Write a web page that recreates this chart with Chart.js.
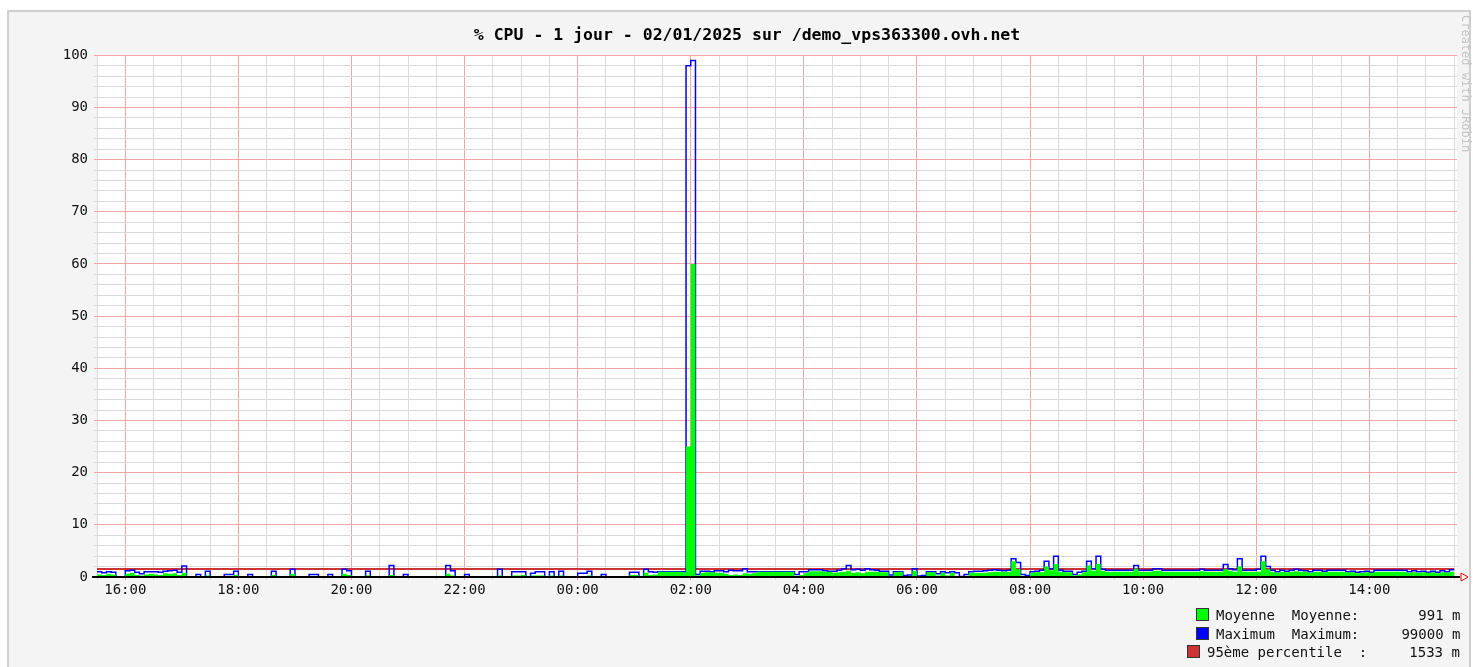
<!DOCTYPE html>
<html>
<head>
<meta charset="utf-8">
<script src="https://cdn.jsdelivr.net/npm/chart.js@4.4.1/dist/chart.umd.min.js"></script>
<style>
  body { margin: 0; background: #fff; width: 1473px; height: 667px; overflow: hidden; position: relative; font-family: 'DejaVu Sans Mono', monospace; }
  #panel { position: absolute; left: 7px; top: 10px; width: 1464px; height: 700px; background: #f4f4f4; border: 2px solid #cfcfcf; box-sizing: border-box; }
  #cpu { position: absolute; left: 0; top: 0; }
  .leg { position: absolute; font-size: 14px; white-space: pre; color: #111; line-height: 16px; }
  .sq { position: absolute; width: 13px; height: 13px; border: 1px solid #333; box-sizing: border-box; }
  #credit { position: absolute; left: 1459px; top: 15px; writing-mode: vertical-rl; font-size: 12px; color: #c4c4c4; }
</style>
</head>
<body>
<div id="panel"></div>
<canvas id="cpu" width="1473" height="667"></canvas>
<div id="legend"></div>
<div id="credit">Created with JRobin</div>
<script>
// samples every 5 minutes, starting 15:30 (minutes since midnight of day 1)
var startMinute = 930;
var stepMinutes = 5;
var endMinute = 2373;

// Moyenne (% CPU), one row per hour
var moyenne = [
  0.5, 0.4, 0.6, 0.5, 0, 0, 0.6, 0.8, 0.4, 0.3, 0.5, 0.6,
  0.5, 0.4, 0.7, 0.6, 0.7, 0.4, 0.8, 0, 0, 0.2, 0, 0.3,
  0, 0, 0, 0.2, 0.2, 0.4, 0, 0, 0.2, 0, 0, 0,
  0, 0.4, 0, 0, 0, 0.6, 0, 0, 0, 0.2, 0.2, 0,
  0, 0.2, 0, 0, 0.6, 0.4, 0, 0, 0, 0.3, 0, 0,
  0, 0, 0.4, 0, 0, 0.2, 0, 0, 0, 0, 0, 0,
  0, 0, 0.6, 0.3, 0, 0, 0.2, 0, 0, 0, 0, 0,
  0, 0.3, 0, 0, 0.3, 0.3, 0.4, 0, 0.3, 0.3, 0.3, 0,
  0.3, 0, 0.3, 0, 0, 0, 0.2, 0.2, 0.3, 0, 0, 0.2,
  0, 0, 0, 0, 0, 0.4, 0.4, 0, 0.8, 0.4, 0.5, 1.0,
  1.0, 1.0, 1.0, 1.0, 0.9, 25, 60, 0.3, 0.8, 0.9, 0.9, 0.8,
  0.8, 0.6, 0.4, 0.5, 0.4, 0.7, 0.6, 0.7, 1.0, 1.0, 1.0, 1.0,
  1.0, 1.0, 1.0, 1.0, 0.2, 0.4, 0.7, 1.1, 1.1, 1.1, 1.0, 1.0,
  0.8, 0.9, 1.0, 1.2, 0.8, 0.9, 0.7, 1.0, 1.0, 1.0, 0.9, 0.9,
  0.2, 0.9, 1.0, 0.2, 0.2, 1.2, 0.1, 0.1, 0.9, 0.9, 0.3, 0.8,
  0.3, 0.8, 0.2, 0, 0.2, 0.8, 0.8, 0.8, 0.8, 0.9, 1.0, 1.0,
  1.0, 1.0, 3.0, 1.5, 0.1, 0.1, 0.8, 0.9, 0.9, 2.0, 1.3, 2.5,
  1.0, 0.9, 0.9, 0.3, 0.5, 0.9, 2.2, 1.2, 2.5, 1.2, 1.0, 1.0,
  1.0, 1.0, 1.0, 1.0, 1.6, 1.0, 1.0, 1.0, 1.2, 1.2, 1.0, 1.0,
  1.0, 1.0, 1.0, 1.0, 1.0, 1.0, 1.1, 1.0, 1.0, 1.0, 1.0, 1.5,
  1.2, 1.0, 2.0, 1.0, 1.0, 1.0, 1.0, 3.0, 1.5, 1.0, 0.8, 1.0,
  0.9, 1.0, 1.1, 1.0, 1.0, 0.8, 1.0, 1.0, 0.9, 1.0, 1.0, 1.0,
  1.0, 0.9, 0.9, 0.7, 0.8, 0.9, 0.8, 1.0, 1.0, 1.0, 1.0, 1.0,
  1.0, 1.0, 0.8, 0.9, 0.8, 0.9, 0.8, 0.9, 0.7, 0.9, 0.8, 1.0
];

// Maximum (% CPU)
var maximum = [
  1.0, 0.8, 1.0, 0.9, 0, 0, 1.2, 1.3, 0.9, 0.6, 1.0, 1.0,
  1.0, 0.9, 1.1, 1.2, 1.3, 0.9, 2.1, 0, 0, 0.5, 0, 1.1,
  0, 0, 0, 0.5, 0.5, 1.1, 0, 0, 0.5, 0, 0, 0,
  0, 1.1, 0, 0, 0, 1.5, 0, 0, 0, 0.5, 0.5, 0,
  0, 0.5, 0, 0, 1.5, 1.2, 0, 0, 0, 1.1, 0, 0,
  0, 0, 2.2, 0, 0, 0.5, 0, 0, 0, 0, 0, 0,
  0, 0, 2.2, 1.2, 0, 0, 0.5, 0, 0, 0, 0, 0,
  0, 1.5, 0, 0, 1.0, 1.0, 1.0, 0, 0.7, 1.0, 1.0, 0,
  1.0, 0, 1.1, 0, 0, 0, 0.7, 0.7, 1.1, 0, 0, 0.5,
  0, 0, 0, 0, 0, 0.9, 0.9, 0, 1.5, 1.0, 0.9, 1.0,
  1.0, 1.0, 1.0, 1.0, 1.0, 98, 99, 0.5, 1.1, 1.1, 1.0, 1.2,
  1.2, 1.0, 1.3, 1.2, 1.2, 1.6, 1.0, 1.0, 1.0, 1.0, 1.0, 1.0,
  1.0, 1.0, 1.0, 1.0, 0.5, 1.0, 1.0, 1.4, 1.4, 1.4, 1.2, 1.1,
  1.1, 1.3, 1.6, 2.2, 1.4, 1.5, 1.3, 1.6, 1.4, 1.3, 1.1, 1.1,
  0.4, 1.0, 1.0, 0.3, 0.4, 1.6, 0.2, 0.3, 1.0, 1.0, 0.6, 1.0,
  0.8, 1.0, 0.8, 0.1, 0.5, 1.0, 1.1, 1.1, 1.2, 1.3, 1.4, 1.3,
  1.2, 1.3, 3.5, 2.8, 0.5, 0.3, 1.0, 1.1, 1.3, 3.0, 1.6, 4.0,
  1.3, 1.1, 1.1, 0.5, 0.9, 1.1, 3.0, 1.6, 4.0, 1.5, 1.3, 1.3,
  1.3, 1.3, 1.3, 1.3, 2.2, 1.3, 1.3, 1.3, 1.6, 1.6, 1.3, 1.3,
  1.3, 1.3, 1.3, 1.3, 1.3, 1.3, 1.5, 1.3, 1.3, 1.3, 1.3, 2.4,
  1.6, 1.4, 3.5, 1.3, 1.3, 1.3, 1.5, 4.0, 2.0, 1.3, 1.0, 1.3,
  1.1, 1.3, 1.5, 1.3, 1.2, 1.0, 1.3, 1.3, 1.1, 1.3, 1.3, 1.3,
  1.3, 1.0, 1.1, 0.9, 1.0, 1.1, 0.9, 1.3, 1.3, 1.3, 1.3, 1.3,
  1.3, 1.3, 1.0, 1.2, 1.0, 1.1, 0.9, 1.1, 0.9, 1.2, 1.0, 1.4
];

var percentile95 = 1.533;

var hourLabels = ["16:00", "18:00", "20:00", "22:00", "00:00", "02:00",
                  "04:00", "06:00", "08:00", "10:00", "12:00", "14:00"];
var firstLabelMinute = 960;

var legendNames = ["Moyenne  Moyenne:", "Maximum  Maximum:", "95ème percentile  :"];
var legendValues = ["991 m", "99000 m", "1533 m"];
var legendColors = ["#00ff00", "#0000ff", "#cc3333"];

var title = "% CPU - 1 jour - 02/01/2025 sur /demo_vps363300.ovh.net";

function toPoints(values) {
  var pts = values.map(function (v, i) {
    return { x: startMinute + i * stepMinutes, y: v };
  });
  // close the last step
  pts.push({ x: startMinute + values.length * stepMinutes, y: values[values.length - 1] });
  return pts;
}

var xTicks = [];
for (var m = startMinute; m <= endMinute; m += 30) xTicks.push(m);

var RED_GRID = "#f5a3a3";
var GRAY_GRID = "#dadada";

var plotBackground = {
  id: "plotBackground",
  beforeDraw: function (chart) {
    var a = chart.chartArea;
    var ctx = chart.ctx;
    ctx.save();
    ctx.fillStyle = "#ffffff";
    ctx.fillRect(a.left, a.top, a.right - a.left, a.bottom - a.top);
    ctx.restore();
  },
};

var axisArrow = {
  id: "axisArrow",
  afterDraw: function (chart) {
    var a = chart.chartArea;
    var ctx = chart.ctx;
    ctx.save();
    ctx.strokeStyle = "#000";
    ctx.lineWidth = 2;
    ctx.beginPath();
    ctx.moveTo(a.left - 5, a.bottom);
    ctx.lineTo(a.right + 3, a.bottom);
    ctx.stroke();
    ctx.strokeStyle = "#ff0000";
    ctx.lineWidth = 1;
    ctx.beginPath();
    ctx.moveTo(a.right + 4, a.bottom - 4);
    ctx.lineTo(a.right + 11, a.bottom);
    ctx.lineTo(a.right + 4, a.bottom + 4);
    ctx.closePath();
    ctx.stroke();
    ctx.restore();
  },
};

var monoTick = { family: "'DejaVu Sans Mono', monospace", size: 14 };

new Chart("cpu", {
  type: "line",
  data: {
    datasets: [
      {
        label: "Moyenne",
        data: toPoints(moyenne),
        stepped: true,
        borderWidth: 0,
        borderColor: "#00ff00",
        backgroundColor: "#00ff00",
        fill: "origin",
        pointRadius: 0,
      },
      {
        label: "Maximum",
        data: toPoints(maximum),
        stepped: true,
        borderWidth: 1.5,
        borderColor: "#0000ff",
        fill: false,
        pointRadius: 0,
      },
      {
        label: "95ème percentile",
        data: [
          { x: startMinute, y: percentile95 },
          { x: startMinute + moyenne.length * stepMinutes, y: percentile95 },
        ],
        borderWidth: 2,
        borderColor: "#cc3333",
        fill: false,
        pointRadius: 0,
      },
    ],
  },
  options: {
    responsive: false,
    animation: false,
    devicePixelRatio: 1,
    events: [],
    layout: { padding: { left: 37, right: 16, top: 0, bottom: 50 } },
    plugins: {
      legend: { display: false },
      tooltip: { enabled: false },
      title: {
        display: true,
        text: title,
        color: "#000",
        font: { family: "'DejaVu Sans Mono', monospace", size: 16.5, weight: "bold" },
        padding: { top: 26, bottom: 9.5 },
      },
    },
    scales: {
      x: {
        type: "linear",
        min: startMinute,
        max: endMinute,
        afterBuildTicks: function (scale) {
          scale.ticks = xTicks.map(function (v) { return { value: v }; });
        },
        afterFit: function (scale) { scale.height = 40; },
        border: { display: false },
        grid: {
          tickLength: 3,
          color: function (ctx) {
            return ctx.tick && (ctx.tick.value - firstLabelMinute) % 120 === 0 ? RED_GRID : GRAY_GRID;
          },
        },
        ticks: {
          autoSkip: false,
          maxRotation: 0,
          padding: 2,
          color: "#111",
          font: monoTick,
          callback: function (v) {
            var d = v - firstLabelMinute;
            return d >= 0 && d % 120 === 0 ? hourLabels[d / 120] : "";
          },
        },
      },
      y: {
        min: 0,
        max: 100,
        afterFit: function (scale) { scale.width = 60; },
        border: { display: false },
        grid: {
          tickLength: 3,
          color: function (ctx) {
            return ctx.tick && ctx.tick.value % 10 === 0 ? RED_GRID : GRAY_GRID;
          },
        },
        ticks: {
          stepSize: 2,
          autoSkip: false,
          padding: 6,
          color: "#111",
          font: monoTick,
          callback: function (v) { return v % 10 === 0 ? String(v) : ""; },
        },
      },
    },
  },
  plugins: [plotBackground, axisArrow],
});

// legend rows, JRobin style
var legendEl = document.getElementById("legend");
var rowTops = [608, 627, 645];
var squareLefts = [1196, 1196, 1187];
var textLefts = [1216, 1216, 1207];
var lineWidths = [29, 29, 30];
legendNames.forEach(function (name, i) {
  var sq = document.createElement("div");
  sq.className = "sq";
  sq.style.left = squareLefts[i] + "px";
  sq.style.top = rowTops[i] + "px";
  sq.style.background = legendColors[i];
  legendEl.appendChild(sq);

  var txt = document.createElement("div");
  txt.className = "leg";
  txt.style.left = textLefts[i] + "px";
  txt.style.top = rowTops[i] - 1 + "px";
  var pad = lineWidths[i] - name.length - legendValues[i].length;
  txt.textContent = name + " ".repeat(Math.max(pad, 1)) + legendValues[i];
  legendEl.appendChild(txt);
});
</script>
</body>
</html>
